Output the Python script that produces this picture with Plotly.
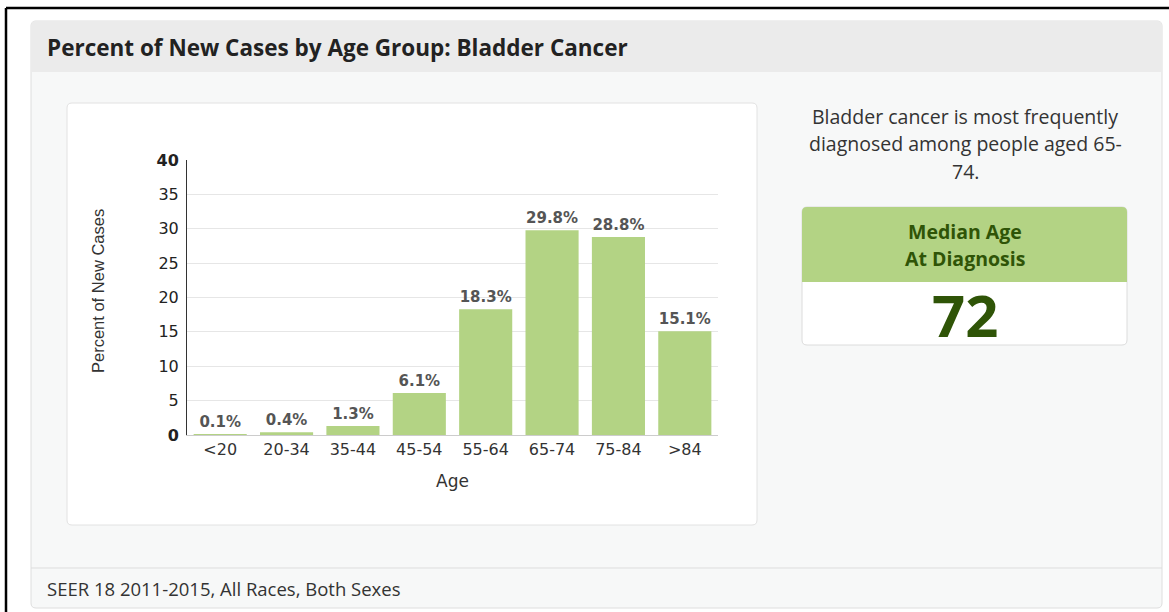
import plotly.graph_objects as go

# Data
age_groups = ["<20", "20-34", "35-44", "45-54", "55-64", "65-74", "75-84", ">84"]
percent_new_cases = [0.1, 0.4, 1.3, 6.1, 18.3, 29.8, 28.8, 15.1]
y_tick_values = [0, 5, 10, 15, 20, 25, 30, 35, 40]
y_tick_labels = ["<b>0</b>", "5", "10", "15", "20", "25", "30", "35", "<b>40</b>"]
median_age = 72
summary_lines = ["Bladder cancer is most frequently", "diagnosed among people aged 65-", "74."]
panel_title = "Percent of New Cases by Age Group: Bladder Cancer"
footer_note = "SEER 18 2011-2015, All Races, Both Sexes"

W, H = 1169, 612
BAR_GREEN = "#b3d384"
DARK_GREEN = "#2f5407"
SANS = "Open Sans, Noto Sans, sans-serif"
CHART_FONT = "DejaVu Sans, Liberation Sans, Arial"


def fx(x):
    return x / W


def fy(y):
    return 1 - y / H


def rounded_rect(x0, y0, x1, y1, r=4, top_only=False):
    X0, X1 = fx(x0), fx(x1)
    Y0, Y1 = fy(y0), fy(y1)
    rx, ry = r / W, r / H
    if top_only:
        return (f"M{X0},{Y1} L{X0},{Y0 - ry} Q{X0},{Y0} {X0 + rx},{Y0} "
                f"L{X1 - rx},{Y0} Q{X1},{Y0} {X1},{Y0 - ry} L{X1},{Y1} Z")
    return (f"M{X0 + rx},{Y0} L{X1 - rx},{Y0} Q{X1},{Y0} {X1},{Y0 - ry} "
            f"L{X1},{Y1 + ry} Q{X1},{Y1} {X1 - rx},{Y1} L{X0 + rx},{Y1} "
            f"Q{X0},{Y1} {X0},{Y1 + ry} L{X0},{Y0 - ry} Q{X0},{Y0} {X0 + rx},{Y0} Z")


fig = go.Figure()
fig.add_trace(go.Bar(
    x=age_groups,
    y=percent_new_cases,
    marker=dict(color=BAR_GREEN, line=dict(width=0)),
    texttemplate="%{y:.1f}%",
    textposition="outside",
    textfont=dict(family=CHART_FONT, size=15, color="#555555", weight="bold"),
    cliponaxis=False,
    hoverinfo="skip",
))

shapes = [
    # outer frame lines
    dict(type="line", x0=fx(6), x1=1, y0=fy(8), y1=fy(8), line=dict(color="#000000", width=2.5)),
    dict(type="line", x0=fx(6), x1=fx(6), y0=fy(8), y1=0, line=dict(color="#000000", width=2.5)),
    # panel body
    dict(type="path", path=rounded_rect(31, 21, 1162, 608, 5), fillcolor="#f7f8f8",
         line=dict(color="#dedede", width=1)),
    # panel header
    dict(type="path", path=rounded_rect(31, 21, 1162, 72, 5, top_only=True), fillcolor="#ebebeb",
         line=dict(width=0)),
    # footer divider
    dict(type="line", x0=fx(31), x1=fx(1162), y0=fy(568), y1=fy(568), line=dict(color="#dddddd", width=1)),
    # chart card
    dict(type="path", path=rounded_rect(67, 103, 757, 525, 5), fillcolor="#ffffff",
         line=dict(color="#e2e2e2", width=1)),
    # median age box
    dict(type="path", path=rounded_rect(802, 207, 1127, 345, 5), fillcolor="#ffffff",
         line=dict(color="#dcdcdc", width=1)),
    dict(type="path", path=rounded_rect(802, 207, 1127, 282, 5, top_only=True), fillcolor=BAR_GREEN,
         line=dict(width=0)),
]
for s in shapes:
    s["xref"] = "paper"
    s["yref"] = "paper"
    s["layer"] = "below"

annotations = [
    dict(text=f"<b>{panel_title}</b>", x=fx(45), y=fy(48), xanchor="left", yanchor="middle",
         font=dict(family=SANS, size=22.5, color="#222222")),
    dict(text=footer_note, x=fx(45), y=fy(588), xanchor="left", yanchor="middle",
         font=dict(family=SANS, size=18.5, color="#333333")),
    dict(text="<b>Median Age</b>", x=fx(965), y=fy(231), xanchor="center", yanchor="middle",
         font=dict(family=SANS, size=19.5, color=DARK_GREEN)),
    dict(text="<b>At Diagnosis</b>", x=fx(965), y=fy(258), xanchor="center", yanchor="middle",
         font=dict(family=SANS, size=19.5, color=DARK_GREEN)),
    dict(text=f"<b>{median_age}</b>", x=fx(965), y=fy(315), xanchor="center", yanchor="middle",
         font=dict(family=SANS, size=58, color=DARK_GREEN)),
    dict(text="Percent of New Cases", x=fx(98), y=fy(291), xanchor="center", yanchor="middle",
         textangle=-90, font=dict(family="Liberation Sans, Arial", size=16.5, color="#333333")),
    dict(text="Age", x=fx(452), y=fy(481), xanchor="center", yanchor="middle",
         font=dict(family=CHART_FONT, size=17, color="#333333")),
]
for i, line in enumerate(summary_lines):
    annotations.append(dict(text=line, x=fx(965), y=fy(116 + i * 27.5), xanchor="center", yanchor="middle",
                            font=dict(family=SANS, size=19.5, color="#333333")))
for a in annotations:
    a["xref"] = "paper"
    a["yref"] = "paper"
    a["showarrow"] = False

fig.update_layout(
    width=W, height=H,
    margin=dict(l=0, r=0, t=0, b=0),
    paper_bgcolor="#ffffff",
    plot_bgcolor="rgba(0,0,0,0)",
    showlegend=False,
    bargap=0.2,
    shapes=shapes,
    annotations=annotations,
    xaxis=dict(
        domain=[fx(187), fx(718)],
        showline=True, linecolor="#cccccc", linewidth=1,
        showgrid=False, ticks="", automargin=False,
        tickfont=dict(family=CHART_FONT, size=16, color="#333333"),
        fixedrange=True,
    ),
    yaxis=dict(
        domain=[fy(435), fy(160)],
        range=[0, 40],
        tickvals=y_tick_values, ticktext=y_tick_labels,
        showline=True, linecolor="#333333", linewidth=1,
        showgrid=True, gridcolor="#e6e6e6", gridwidth=1,
        zeroline=False, ticks="", ticklabelstandoff=4, automargin=False,
        tickfont=dict(family=CHART_FONT, size=16, color="#222222"),
        fixedrange=True,
    ),
)

fig.write_html("out.html")
